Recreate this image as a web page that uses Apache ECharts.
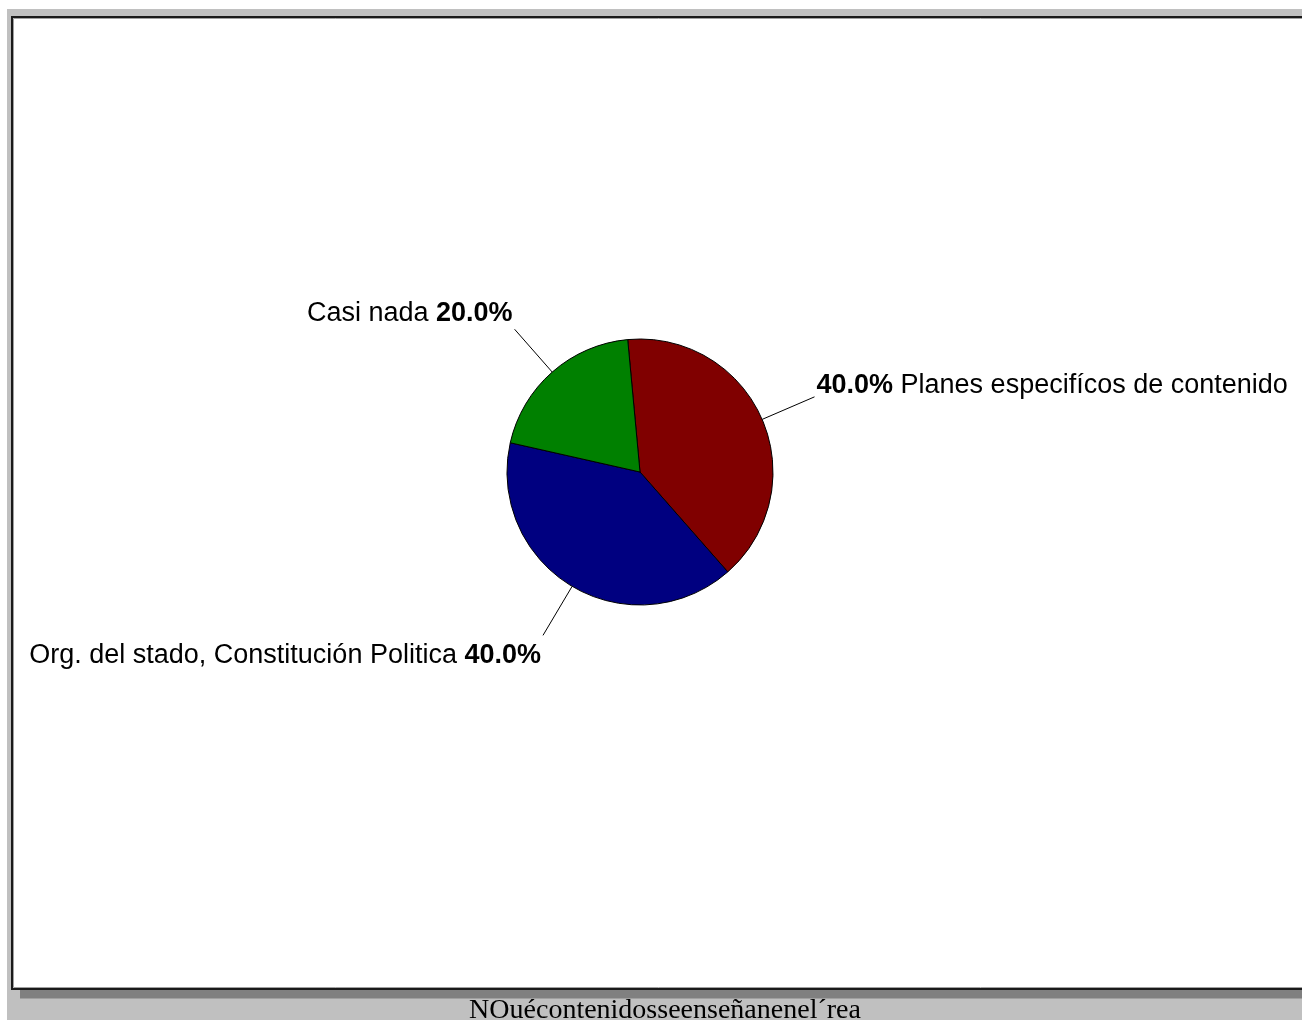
<!DOCTYPE html>
<html>
<head>
<meta charset="utf-8">
<script src="https://cdn.jsdelivr.net/npm/echarts@6/dist/echarts.min.js"></script>
<style>
html,body{margin:0;padding:0;background:#fff;}
#chart{width:1302px;height:1020px;}
</style>
</head>
<body>
<div id="chart"></div>
<script>
var categories = ['Planes especifícos de contenido', 'Org. del stado, Constitución Politica', 'Casi nada'];
var values = [40, 40, 20];
var colors = ['#800000', '#000080', '#008000'];
var chartTitle = 'NOuécontenidosseenseñanenel´rea';

var chart = echarts.init(document.getElementById('chart'), null, {renderer: 'canvas'});

var labelPads = [[0, 0, 22, 0], [40, 0, 0, 0], [0, 0, 32, 0]];

var data = categories.map(function (name, i) {
  return {
    name: name,
    value: values[i],
    itemStyle: {color: colors[i]},
    label: {padding: labelPads[i]}
  };
});

var option = {
  backgroundColor: '#ffffff',
  animation: false,
  title: {
    text: chartTitle,
    left: 660,
    top: 992,
    textAlign: 'center',
    textStyle: {
      fontFamily: '"Liberation Serif", "DejaVu Serif", serif',
      fontSize: 28,
      fontWeight: 'normal',
      color: '#000'
    }
  },
  graphic: [
    {type: 'rect', z: -30, silent: true, shape: {x: 7, y: 9, width: 1300, height: 1015}, style: {fill: '#c0c0c0'}},
    {type: 'rect', z: -29, silent: true, shape: {x: 20, y: 25, width: 1300, height: 974}, style: {fill: '#a0a0a0'}},
    {type: 'rect', z: -28, silent: true, shape: {x: 20, y: 25, width: 1300, height: 973}, style: {fill: '#808080'}},
    {type: 'rect', z: -27, silent: true, shape: {x: 12, y: 17, width: 1300, height: 972}, style: {fill: '#ffffff', stroke: '#1a1a1a', lineWidth: 2}},
    {type: 'rect', z: -26, silent: true, shape: {x: 13.5, y: 18.5, width: 1300, height: 969}, style: {fill: null, stroke: '#a0a0a0', lineWidth: 1}}
  ],
  series: [{
    type: 'pie',
    center: [640, 472],
    radius: 133,
    startAngle: 95.3,
    clockwise: true,
    data: data,
    itemStyle: {borderColor: '#000', borderWidth: 1},
    emphasis: {disabled: true},
    label: {
      show: true,
      position: 'outside',
      distanceToLabelLine: 2,
      fontFamily: '"Liberation Sans", Arial, sans-serif',
      fontSize: 27,
      color: '#000',
      formatter: function (p) {
        var pct = p.percent.toFixed(1) + '%';
        if (p.dataIndex === 0) return '{b|' + pct + '} ' + p.name;
        return p.name + ' {b|' + pct + '}';
      },
      rich: {
        b: {fontWeight: 'bold', fontSize: 27, fontFamily: '"Liberation Sans", Arial, sans-serif', color: '#000'}
      }
    },
    labelLine: {
      show: true,
      length: 57,
      length2: 0,
      smooth: false,
      lineStyle: {color: '#000', width: 1}
    }
  }]
};
chart.setOption(option);
</script>
</body>
</html>
